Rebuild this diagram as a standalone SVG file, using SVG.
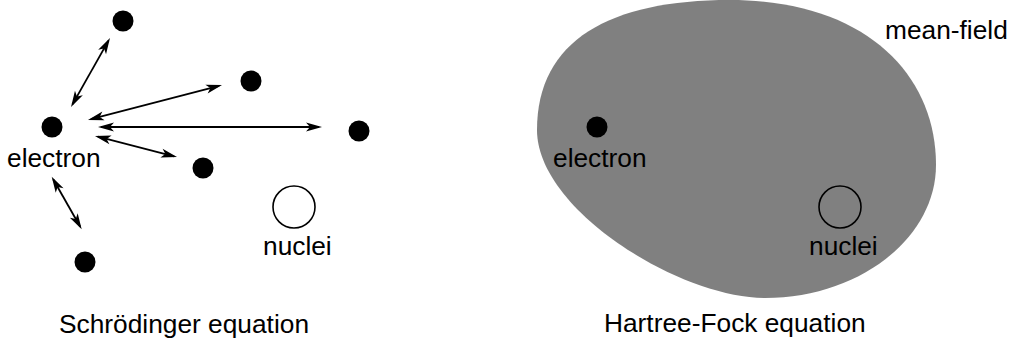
<svg xmlns="http://www.w3.org/2000/svg" width="1011" height="347" viewBox="0 0 1011 347">
<style>
text{font-family:"Liberation Sans",Arial,sans-serif;font-size:26.3px;fill:#000}
.dot{fill:#000}
.nuc{stroke:#000;stroke-width:1.6}
.arr{stroke:#000;stroke-width:1.8;fill:none;marker-start:url(#ah);marker-end:url(#ah)}
</style>
<defs>
<marker id="ah" markerUnits="userSpaceOnUse" viewBox="-14 -6 18 12" refX="0" refY="0" markerWidth="18" markerHeight="12" orient="auto-start-reverse">
<path d="M3,0 L-13,-4.5 L-9,0 L-13,4.5 Z" fill="#000"/>
</marker>
</defs>
<rect width="1011" height="347" fill="#fff"/>

<g id="schrodinger">
<g id="electron-left"><circle class="dot" cx="52" cy="127" r="10.5"/><text x="7" y="167">electron</text></g>
<g id="e1"><circle class="dot" cx="123" cy="21" r="10.5"/></g>
<g id="e2"><circle class="dot" cx="251" cy="81" r="10.5"/></g>
<g id="e3"><circle class="dot" cx="359" cy="131" r="10.5"/></g>
<g id="e4"><circle class="dot" cx="203" cy="168" r="10.5"/></g>
<g id="e5"><circle class="dot" cx="85" cy="262" r="10.5"/></g>
<g id="nucleus-left"><circle class="nuc" cx="294" cy="207" r="21" fill="#fff"/><text x="263" y="255">nuclei</text></g>
<g id="connectors">
<line class="arr" x1="108.5" y1="40.6" x2="72.5" y2="104.4"/>
<line class="arr" x1="219.1" y1="85.8" x2="90.9" y2="119.2"/>
<line class="arr" x1="101" y1="127" x2="319" y2="127"/>
<line class="arr" x1="97.9" y1="136.7" x2="174.1" y2="156.3"/>
<line class="arr" x1="53.2" y1="179.3" x2="80.2" y2="226.7"/>
</g>
<text x="59" y="333">Schrödinger equation</text>
</g>

<g id="hartree-fock">
<g id="mean-field">
<path d="M730,0 C865,0 936,74 936,165 C936,238 859,298 765,298 C680,298 537,210 537,130 C537,40 610,0 730,0 Z" fill="#808080"/>
<text x="885" y="39">mean-field</text>
</g>
<g id="electron-right"><circle class="dot" cx="597" cy="127" r="10.5"/><text x="553" y="167">electron</text></g>
<g id="nucleus-right"><circle class="nuc" cx="840" cy="207" r="21" fill="none"/><text x="809" y="255">nuclei</text></g>
<text x="604" y="332">Hartree-Fock equation</text>
</g>
</svg>
